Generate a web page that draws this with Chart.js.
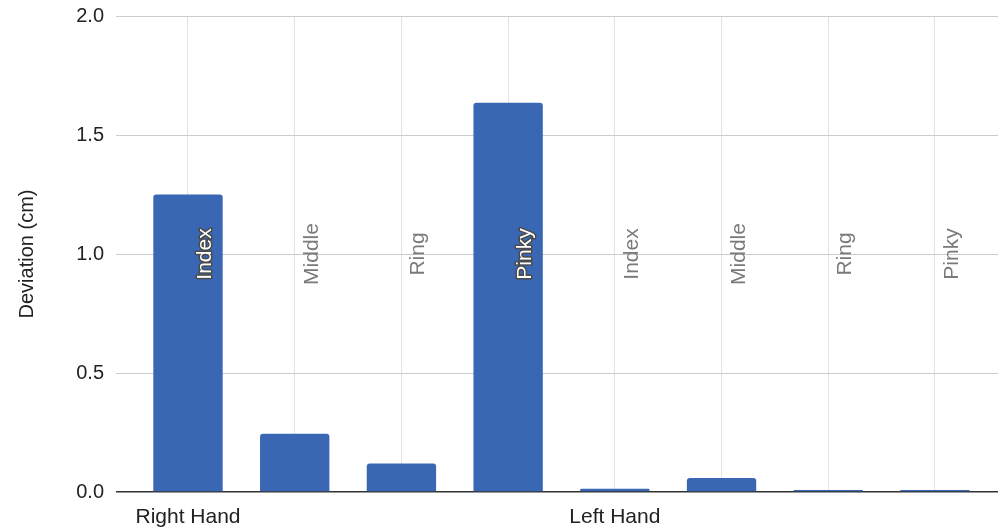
<!DOCTYPE html>
<html>
<head>
<meta charset="utf-8">
<script src="https://cdn.jsdelivr.net/npm/chart.js@4.4.1/dist/chart.umd.min.js"></script>
<style>
  html, body { margin: 0; padding: 0; background: #ffffff; }
  #wrap { width: 998px; height: 532px; position: relative; }
</style>
</head>
<body>
<div id="wrap"><canvas id="c"></canvas></div>
<script>
const fingers = ["Index", "Middle", "Ring", "Pinky", "Index", "Middle", "Ring", "Pinky"];
const hands = ["Right Hand", "", "", "", "Left Hand", "", "", ""];
const deviation = [1.25, 0.245, 0.12, 1.635, 0.014, 0.059, 0.008, 0.008];
const yTicks = [0, 0.5, 1.0, 1.5, 2.0];

const FONT = "'Liberation Sans', Arial, sans-serif";

const fingerLabels = {
  id: 'fingerLabels',
  afterDatasetsDraw(chart) {
    const ctx = chart.ctx;
    const xs = chart.scales.x;
    const area = chart.chartArea;
    const midY = (area.top + area.bottom) / 2;
    const meta = chart.getDatasetMeta(0);
    ctx.save();
    ctx.font = "21px " + FONT;
    ctx.textAlign = 'center';
    ctx.textBaseline = 'alphabetic';
    fingers.forEach((name, i) => {
      const x = xs.getPixelForValue(i) + 23;
      const bar = meta.data[i];
      const inside = bar && bar.y < midY - 30;
      ctx.save();
      ctx.translate(x, midY);
      ctx.rotate(-Math.PI / 2);
      if (inside) {
        ctx.lineWidth = 3;
        ctx.strokeStyle = '#4a4a4a';
        ctx.lineJoin = 'round';
        ctx.strokeText(name, 0, 0);
        ctx.fillStyle = '#ffffff';
        ctx.fillText(name, 0, 0);
      } else {
        ctx.fillStyle = '#7a7a7a';
        ctx.fillText(name, 0, 0);
      }
      ctx.restore();
    });
    ctx.restore();
  }
};

new Chart(document.getElementById('c'), {
  type: 'bar',
  data: {
    datasets: [{
      data: deviation.map((v, i) => ({ x: i, y: v })),
      backgroundColor: '#3967b4',
      borderRadius: { topLeft: 3, topRight: 3, bottomLeft: 0, bottomRight: 0 },
      borderSkipped: 'bottom',
      barPercentage: 0.65,
      categoryPercentage: 1.0
    }]
  },
  options: {
    responsive: true,
    maintainAspectRatio: false,
    animation: false,
    layout: { padding: { top: 16, right: 0, left: 0, bottom: 0 } },
    plugins: {
      legend: { display: false },
      tooltip: { enabled: false }
    },
    scales: {
      x: {
        type: 'linear',
        offset: false,
        min: -0.6747,
        max: 7.5907,
        afterBuildTicks(scale) {
          scale.ticks = fingers.map((f, i) => ({ value: i }));
        },
        afterFit(scale) {
          scale.height = 40;
          scale.paddingLeft = 0;
          scale.paddingRight = 0;
        },
        grid: {
          offset: false,
          color: '#e3e3e3',
          lineWidth: 1,
          drawTicks: false
        },
        border: { display: false },
        ticks: {
          autoSkip: false,
          maxRotation: 0,
          padding: 13,
          color: '#222222',
          font: { family: FONT, size: 21 },
          callback: (v) => hands[v] || ''
        }
      },
      y: {
        min: 0,
        max: 2.0,
        afterBuildTicks(scale) {
          scale.ticks = yTicks.map(v => ({ value: v }));
        },
        afterFit(scale) {
          scale.width = 116;
          scale.paddingTop = 0;
          scale.paddingBottom = 0;
        },
        grid: {
          color: (c) => c.tick && c.tick.value === 0 ? '#333333' : '#cccccc',
          lineWidth: (c) => c.tick && c.tick.value === 0 ? 1.5 : 1,
          drawTicks: false
        },
        border: { display: false },
        ticks: {
          padding: 12,
          color: '#222222',
          font: { family: FONT, size: 20 },
          callback: (v) => Number(v).toFixed(1)
        },
        title: {
          display: true,
          text: 'Deviation (cm)',
          color: '#222222',
          font: { family: FONT, size: 20 },
          padding: { top: 15, bottom: 0 }
        }
      }
    }
  },
  plugins: [fingerLabels]
});
</script>
</body>
</html>
